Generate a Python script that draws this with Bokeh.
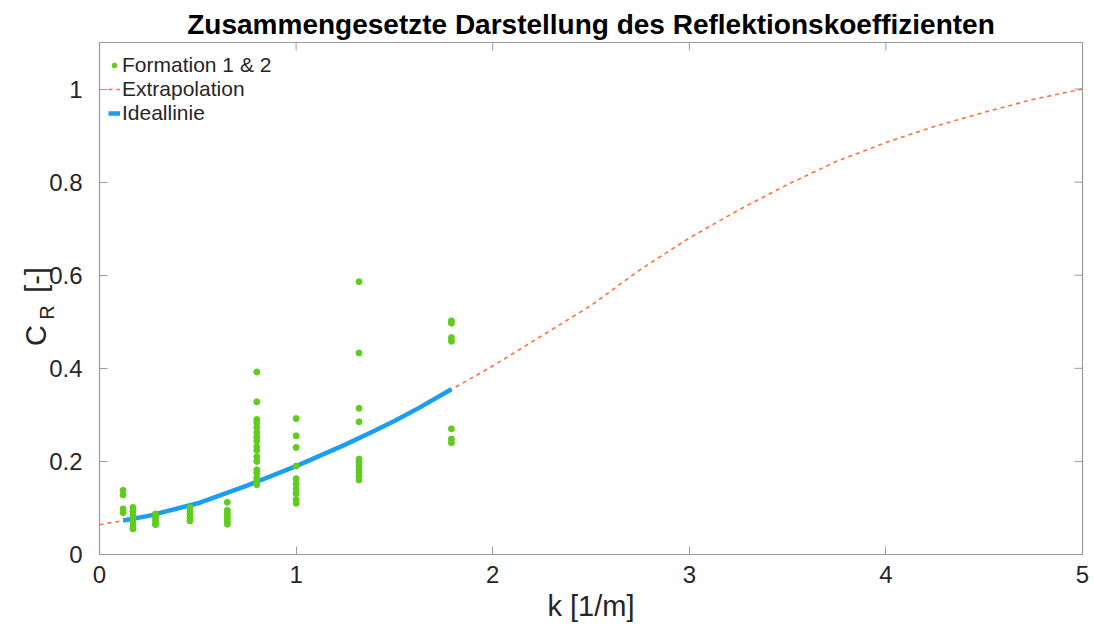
from bokeh.plotting import figure
from bokeh.models import Range1d, Legend, LegendItem, FixedTicker, LinearAxis
from bokeh.embed import file_html
from bokeh.resources import INLINE

# Measured reflection coefficients, grouped by wave number k [1/m]
k_groups = [0.12, 0.17, 0.285, 0.46, 0.65, 0.80, 1.0, 1.32, 1.79]
cr_groups = [
    [0.138, 0.128, 0.098, 0.090],
    [0.101, 0.093, 0.085, 0.077, 0.069, 0.061, 0.055],
    [0.087, 0.081, 0.075, 0.069, 0.064],
    [0.101, 0.094, 0.086, 0.079, 0.072],
    [0.112, 0.095, 0.088, 0.082, 0.076, 0.070, 0.065],
    [0.392, 0.328, 0.290, 0.283, 0.273, 0.262, 0.252, 0.244, 0.232,
     0.224, 0.210, 0.200, 0.182, 0.175, 0.165, 0.158, 0.150],
    [0.292, 0.255, 0.230, 0.190, 0.163, 0.152, 0.141, 0.131, 0.118, 0.110],
    [0.586, 0.433, 0.314, 0.285, 0.205, 0.198, 0.190, 0.183, 0.176, 0.168, 0.160],
    [0.502, 0.497, 0.466, 0.458, 0.270, 0.248, 0.240],
]

# Extrapolated curve over the whole k range
k_extra = [0.0, 0.12, 0.25, 0.5, 0.75, 1.0, 1.25, 1.5, 1.75, 2.0, 2.25, 2.5,
           2.75, 3.0, 3.25, 3.5, 3.75, 4.0, 4.25, 4.5, 4.75, 5.0]
cr_extra = [0.064, 0.073, 0.083, 0.110, 0.148, 0.190, 0.236, 0.287, 0.345, 0.405,
            0.470, 0.535, 0.612, 0.680, 0.740, 0.795, 0.845, 0.885, 0.920, 0.950,
            0.978, 1.000]

# Ideal line over the measured range
k_ideal = [0.12, 0.25, 0.5, 0.75, 1.0, 1.25, 1.375, 1.5, 1.625, 1.79]
cr_ideal = [0.073, 0.083, 0.110, 0.148, 0.190, 0.236, 0.261, 0.287, 0.315, 0.355]

x_ticks = [0, 1, 2, 3, 4, 5]
y_ticks = [0, 0.2, 0.4, 0.6, 0.8, 1.0]

NB = "\u00a0"
TITLE = "Zusammengesetzte Darstellung des Reflektionskoeffizienten"
X_LABEL = "k [1/m]"
# y title C_R [-]: main part with a gap for the subscript; trailing
# non-breaking spaces nudge each centred label towards the bottom
Y_LABEL_MAIN = "C" + NB * 4 + "[-]" + NB * 2
Y_LABEL_SUB = "R" + NB * 5

k_pts = [k for k, grp in zip(k_groups, cr_groups) for _ in grp]
cr_pts = [v for grp in cr_groups for v in grp]

FONT = "Liberation Sans"
AX = "#9a9a9a"
TXT = "#262626"

W, H = 1094, 625
BL, BR, BT, BB = 99, 12, 42, 71
X0, X1, Y0, Y1 = 0, 5, 0, 1.1

p = figure(width=W, height=H, output_backend="svg", toolbar_location=None,
           x_range=Range1d(X0, X1), y_range=Range1d(Y0, Y1),
           min_border_left=BL, min_border_right=BR, min_border_top=BT,
           min_border_bottom=BB)
p.xgrid.visible = False
p.ygrid.visible = False
p.outline_line_color = AX
p.outline_line_width = 1.2
p.background_fill_color = "white"
p.border_fill_color = "white"

p.title.text = TITLE
p.title.align = "center"
p.title.text_font = FONT
p.title.text_font_style = "bold"
p.title.text_font_size = "28px"
p.title.text_color = "black"
p.title.standoff = 5

for ax in (p.xaxis[0], p.yaxis[0]):
    ax.axis_line_color = AX
    ax.major_tick_line_color = AX
    ax.major_tick_in = 8
    ax.major_tick_out = 0
    ax.minor_tick_line_color = None
    ax.major_label_text_font = FONT
    ax.major_label_text_font_size = "24px"
    ax.major_label_text_color = TXT
    ax.axis_label_text_font = FONT
    ax.axis_label_text_font_style = "normal"
    ax.axis_label_text_color = TXT
    ax.axis_label_text_font_size = "29px"

p.xaxis[0].ticker = FixedTicker(ticks=x_ticks)
p.yaxis[0].ticker = FixedTicker(ticks=y_ticks)
p.xaxis[0].major_label_overrides = {0: "0", 1: "1", 2: "2", 3: "3", 4: "4", 5: "5"}
p.yaxis[0].major_label_overrides = {0: "0", 0.2: "0.2", 0.4: "0.4", 0.6: "0.6",
                                    0.8: "0.8", 1.0: "1"}
p.xaxis[0].axis_label = X_LABEL
p.xaxis[0].major_label_standoff = 11
p.xaxis[0].axis_label_standoff = 4
p.yaxis[0].major_label_standoff = 17


def label_axis(text, size, standoff):
    """Tick-less left axis that only carries a label."""
    return LinearAxis(ticker=FixedTicker(ticks=[]),
                      axis_line_color=None, major_tick_line_color=None,
                      minor_tick_line_color=None, axis_label=text,
                      axis_label_text_font=FONT, axis_label_text_font_style="normal",
                      axis_label_text_font_size=size, axis_label_text_color=TXT,
                      axis_label_standoff=standoff)


# subscript first (nearer the frame), then the main text
p.add_layout(label_axis(Y_LABEL_SUB, "20px", -11), "left")
p.add_layout(label_axis(Y_LABEL_MAIN, "29px", -19), "left")

# Mirrored inward ticks along the top and right edges of the box
fw, fh = W - BL - BR, H - BT - BB
tick_dy = 8 * (Y1 - Y0) / fh
tick_dx = 8 * (X1 - X0) / fw
p.segment(x0=x_ticks, y0=[Y1] * len(x_ticks), x1=x_ticks,
          y1=[Y1 - tick_dy] * len(x_ticks), line_color=AX, line_width=1)
p.segment(x0=[X1] * len(y_ticks), y0=y_ticks, x1=[X1 - tick_dx] * len(y_ticks),
          y1=y_ticks, line_color=AX, line_width=1)

r_extra = p.line(k_extra, cr_extra, line_color="#FF7040", line_width=1.6,
                 line_dash="4 4")
r_ideal = p.line(k_ideal, cr_ideal, line_color="#1A9FF0", line_width=4.5,
                 line_join="round")
r_pts = p.scatter(k_pts, cr_pts, size=6, fill_color="#5FCC1E", line_color="#5FCC1E")

legend = Legend(items=[
    LegendItem(label="Formation 1 & 2", renderers=[r_pts]),
    LegendItem(label="Extrapolation", renderers=[r_extra]),
    LegendItem(label="Ideallinie", renderers=[r_ideal]),
], location=(9, 429))
legend.background_fill_alpha = 0
legend.border_line_alpha = 0
legend.label_text_font = FONT
legend.label_text_font_size = "21px"
legend.label_text_color = TXT
legend.glyph_width = 12
legend.glyph_height = 20
legend.label_height = 20
legend.label_standoff = 2
legend.spacing = 0
legend.padding = 0
legend.margin = 0
p.add_layout(legend, "center")

open("out.html", "w").write(file_html(p, INLINE))
